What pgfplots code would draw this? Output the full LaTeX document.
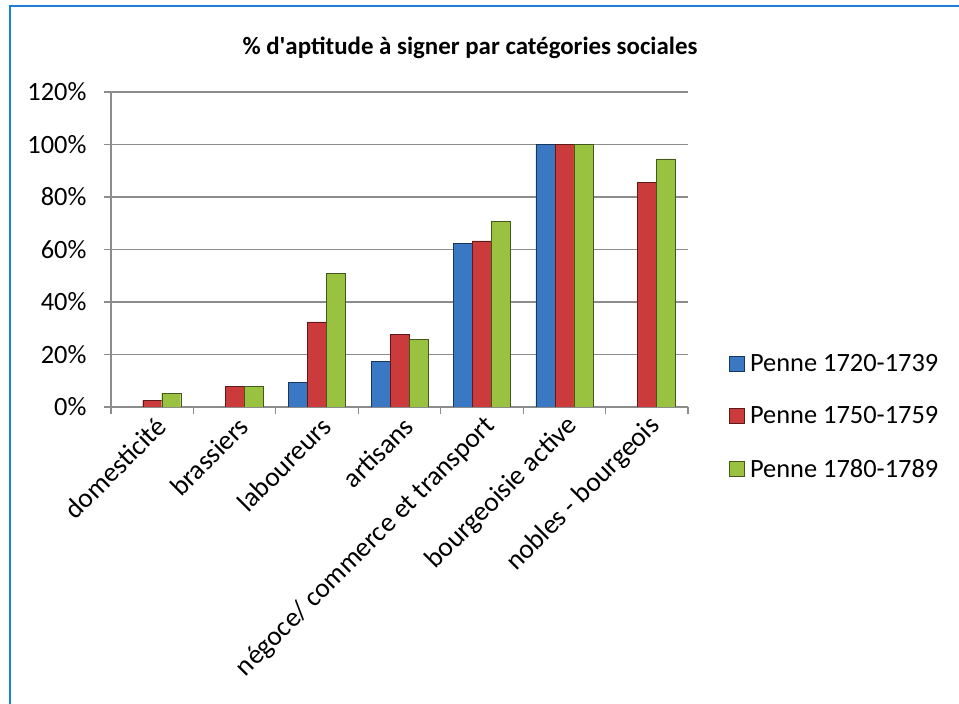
\documentclass[border=0pt]{standalone}
\usepackage{pgfplots}
\pgfplotsset{compat=1.18}
\usepackage{fontspec}
\setmainfont{Carlito}
\definecolor{cblue}{HTML}{3A78C4}
\definecolor{cred}{HTML}{CC3B3B}
\definecolor{cgreen}{HTML}{98C240}
\definecolor{framecol}{HTML}{1E7FD2}
\definecolor{gridcol}{HTML}{8C8C8C}
\newcommand{\apos}{\XeTeXglyph\the\XeTeXcharglyph"27\relax}
\begin{document}
\begin{tikzpicture}[x=1bp,y=1bp]
\path[use as bounding box] (0,0) rectangle (959,704);
\draw[framecol, line width=2bp] (10,-2) -- (10,698) -- (961,698);
\node[font=\fontsize{25}{30}\selectfont\bfseries] at (470,656) {\% d\apos aptitude à signer par catégories sociales};
\begin{axis}[
  at={(111bp,297bp)}, anchor=south west,
  scale only axis, width=577bp, height=315bp,
  xmin=-0.5, xmax=6.5, ymin=0, ymax=120,
  ybar=0pt, bar width=19bp,
  axis x line*=bottom, axis y line*=left,
  axis line style={gridcol, line width=1.2bp},
  ymajorgrids, grid style={gridcol, line width=1.2bp},
  ytick={0,20,...,120},
  yticklabel={\pgfmathprintnumber{\tick}\%},
  /pgf/number format/assume math mode=true,
  xtick={0,...,6},
  xticklabels={domesticité,brassiers,laboureurs,artisans,négoce/ commerce et transport,bourgeoisie active,nobles - bourgeois},
  minor xtick={-0.5,0.5,...,6.5},
  major x tick style={draw=none},
  minor x tick style={gridcol, line width=1.2bp},
  y tick style={gridcol, line width=1.2bp},
  tick align=outside, major tick length=7bp, minor tick length=7bp,
  tick label style={font=\fontsize{26.5}{32}\selectfont},
  y tick label style={xshift=-14bp},
  x tick label style={font=\fontsize{27.5}{33}\selectfont, rotate=45, anchor=east, inner sep=2bp, xshift=3bp, yshift=-12bp},
  legend style={at={(1.065,-0.03)}, anchor=west, draw=none, fill=none,
    font=\fontsize{26.5}{32}\selectfont, row sep=30bp, legend cell align=left,
    /tikz/every odd column/.append style={column sep=4bp}},
  legend image code/.code={\draw[#1] (0bp,-7.5bp) rectangle (15bp,7.5bp);},
]
\addplot[fill=cblue, draw=cblue!45!black] coordinates {(2,9.4) (3,17.5) (4,62.4) (5,100)};
\addplot[fill=cred, draw=cred!45!black] coordinates {(0,2.5) (1,7.9) (2,32.4) (3,27.8) (4,63.3) (5,100) (6,85.7)};
\addplot[fill=cgreen, draw=cgreen!45!black] coordinates {(0,5.2) (1,7.9) (2,51) (3,25.7) (4,70.6) (5,100) (6,94.5)};
\legend{Penne 1720-1739,Penne 1750-1759,Penne 1780-1789}
\end{axis}
\end{tikzpicture}
\end{document}
